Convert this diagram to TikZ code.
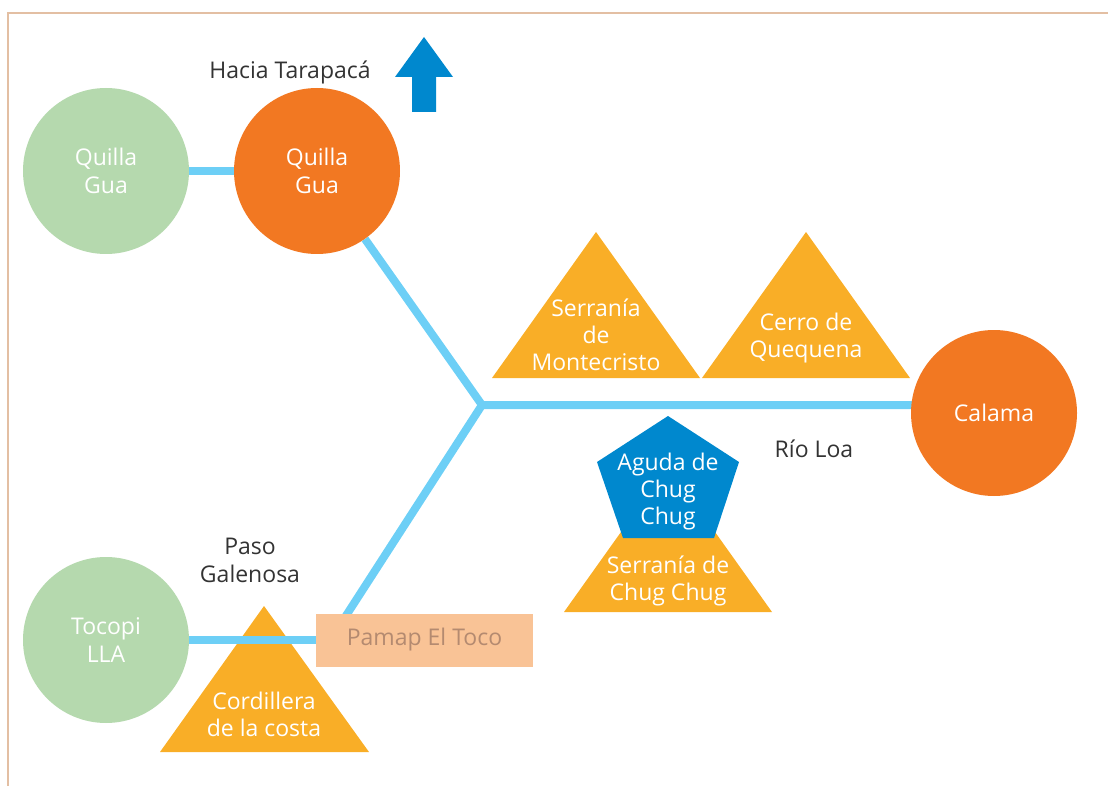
\documentclass[tikz,border=0pt]{standalone}
\usepackage{fontspec}
\setmainfont{Open Sans}
\usetikzlibrary{backgrounds}
\definecolor{sage}{HTML}{B5D9AE}
\definecolor{tang}{HTML}{F27822}
\definecolor{amber}{HTML}{F9AE27}
\definecolor{deepblue}{HTML}{0088CE}
\definecolor{river}{HTML}{6DCFF6}
\definecolor{peach}{HTML}{F9C396}
\definecolor{peachtext}{HTML}{B48A70}
\definecolor{ink}{HTML}{333333}
\definecolor{frame}{HTML}{E3BFA3}
\tikzset{
  town/.style={circle, minimum size=166pt, inner sep=0pt, align=center, text=white,
    font=\fontsize{23}{28}\selectfont},
  oldtown/.style={town, fill=sage},
  maintown/.style={town, fill=tang},
  riverline/.style={river, line width=8pt},
  hill/.style={fill=amber},
  hilltext/.style={align=center, text=white, font=\fontsize{23}{27}\selectfont},
  plain/.style={align=center, text=ink, font=\fontsize{23}{28}\selectfont},
}
\begin{document}
\begin{tikzpicture}[x=1pt,y=-1pt]
\useasboundingbox (0,0) rectangle (1108,786);
% page frame
\draw[frame, line width=1.5pt] (8,786) -- (8,13) -- (1108,13);

% towns
\node[oldtown]  (qg1)    at (106,171) {Quilla\\Gua};
\node[maintown] (qg2)    at (317,171) {Quilla\\Gua};
\node[maintown] (calama) at (994,413) {Calama};
\node[oldtown]  (tocopi) at (106,640) {Tocopi\\LLA};
\node[fill=peach, minimum width=217pt, minimum height=53pt, inner sep=0pt,
      text=peachtext, font=\fontsize{23}{28}\selectfont] (pamap) at (424.5,640) {Pamap El Toco};

% river network
\coordinate (junc) at (482,405);
\coordinate (calin) at (994,405);
\coordinate (pamin) at (340,625);
\begin{scope}[on background layer]
  \fill[hill] (160,752) -- (264,606) -- (369,752) -- cycle;
  \draw[riverline] (qg1) -- (qg2);
  \draw[riverline] (qg2) -- (junc) -- (calin);
  \draw[riverline] (junc) -- (pamin);
  \draw[riverline] (tocopi) -- (pamap);
\end{scope}
\node[hilltext] (cordillera) at (264,714) {Cordillera\\de la costa};

% hills along the river
\fill[hill] (492,378) -- (596,232) -- (700,378) -- cycle;
\node[hilltext] (montecristo) at (596,335) {Serranía\\de\\Montecristo};
\fill[hill] (702,378) -- (806,232) -- (910,378) -- cycle;
\node[hilltext] (quequena) at (806,338) {Cerro de\\Quequena};
\fill[hill] (564,612) -- (668,466) -- (772,612) -- cycle;
\node[hilltext] (chugchug) at (668,581) {Serranía de\\Chug Chug};
\fill[deepblue] (668,416) -- (739,462) -- (714,538) -- (623,538) -- (597,462) -- cycle;
\node[hilltext] (aguda) at (668,492) {Aguda de\\Chug\\Chug};

% labels
\node[plain] (tarapaca) at (290,72) {Hacia Tarapacá};
\node[plain] (paso) at (250,560) {Paso\\Galenosa};
\node[plain] (loa) at (814,449) {Río Loa};

% north arrow
\fill[deepblue] (412,112) -- (412,77) -- (395,77) -- (424,37) -- (453,77) -- (436,77) -- (436,112) -- cycle;
\end{tikzpicture}
\end{document}
